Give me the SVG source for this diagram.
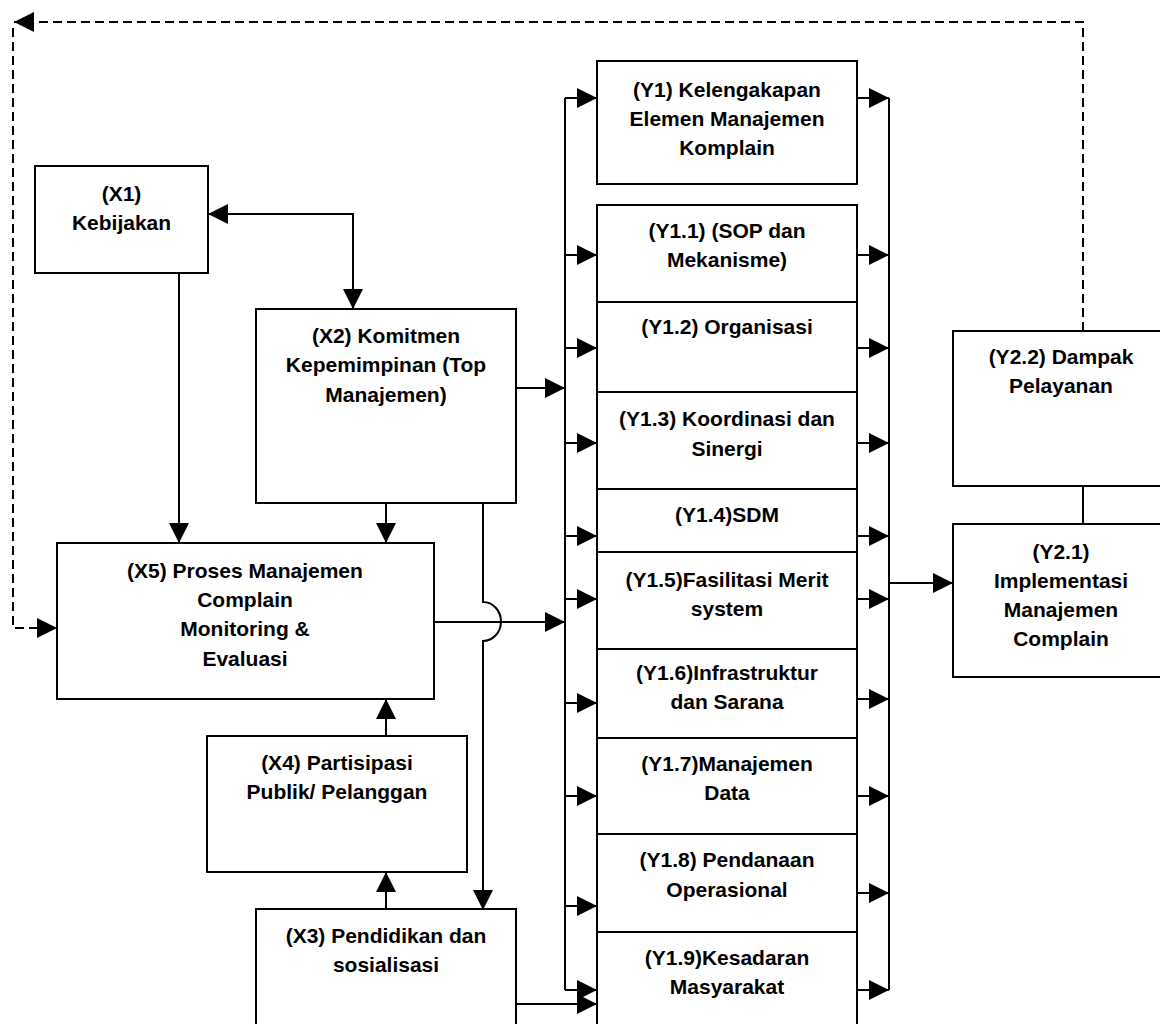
<svg xmlns="http://www.w3.org/2000/svg" width="1160" height="1024" viewBox="0 0 1160 1024">
  <style>
    .box { fill: #ffffff; stroke: #000000; stroke-width: 2; }
    .lbl { font-family: "Liberation Sans", Arial, sans-serif; font-weight: bold; font-size: 21px; fill: #000000; text-anchor: middle; }
    .ln { fill: none; stroke: #000000; stroke-width: 2; }
    .arr { fill: none; stroke: #000000; stroke-width: 2; marker-end: url(#head); }
    .dash { fill: none; stroke: #000000; stroke-width: 2; stroke-dasharray: 9 5; marker-end: url(#head); }
  </style>
  <defs>
    <marker id="head" viewBox="0 0 20 20" refX="20" refY="10" markerWidth="20" markerHeight="20" markerUnits="userSpaceOnUse" orient="auto-start-reverse">
      <path d="M0,0 L20,10 L0,20 Z" fill="#000000"/>
    </marker>
  </defs>
  <rect width="1160" height="1024" fill="#ffffff"/>

  <!-- connectors -->
  <g id="connectors">
    <!-- feedback loop (dashed) -->
    <path class="dash" d="M1083,331 V22 H14"/>
    <path class="dash" d="M13,28 V628 H57"/>
    <!-- X1 <-> X2 -->
    <path class="arr" style="marker-start:url(#head)" d="M208,214 H353 V309"/>
    <!-- into X5 -->
    <path class="arr" d="M179,273 V543"/>
    <path class="arr" d="M386,503 V543"/>
    <path class="arr" d="M386,736 V699"/>
    <path class="arr" d="M386,909 V872"/>
    <!-- X2 -> X3 with line hop over X5 output -->
    <path class="arr" d="M483,503 V602 A18,19.5 0 0 1 483,641 V910"/>
    <!-- sources to left bus -->
    <path class="arr" d="M516,388 H565"/>
    <path class="arr" d="M434,622 H565"/>
    <path class="arr" d="M516,1004 H597"/>
    <!-- left bus -->
    <path class="ln" d="M565,98 V990"/>
    <path class="arr" d="M565,98 H597"/>
    <path class="arr" d="M565,255 H597"/>
    <path class="arr" d="M565,348 H597"/>
    <path class="arr" d="M565,443 H597"/>
    <path class="arr" d="M565,536 H597"/>
    <path class="arr" d="M565,599 H597"/>
    <path class="arr" d="M565,703 H597"/>
    <path class="arr" d="M565,796 H597"/>
    <path class="arr" d="M565,906 H597"/>
    <path class="arr" d="M565,990 H597"/>
    <!-- right bus -->
    <path class="ln" d="M889,98 V990"/>
    <path class="arr" d="M857,98 H889"/>
    <path class="arr" d="M857,255 H889"/>
    <path class="arr" d="M857,348 H889"/>
    <path class="arr" d="M857,443 H889"/>
    <path class="arr" d="M857,536 H889"/>
    <path class="arr" d="M857,599 H889"/>
    <path class="arr" d="M857,699 H889"/>
    <path class="arr" d="M857,796 H889"/>
    <path class="arr" d="M857,893 H889"/>
    <path class="arr" d="M857,990 H889"/>
    <path class="arr" d="M889,583 H953"/>
    <!-- Y2.2 - Y2.1 -->
    <path class="ln" d="M1083,486 V524"/>
  </g>

  <!-- X nodes -->
  <g id="x1">
    <rect class="box" x="35" y="166" width="173" height="107"/>
    <text class="lbl" x="121.5" y="201">(X1)</text>
    <text class="lbl" x="121.5" y="230">Kebijakan</text>
  </g>
  <g id="x2">
    <rect class="box" x="256" y="309" width="260" height="194"/>
    <text class="lbl" x="386" y="343">(X2) Komitmen</text>
    <text class="lbl" x="386" y="372">Kepemimpinan (Top</text>
    <text class="lbl" x="386" y="402">Manajemen)</text>
  </g>
  <g id="x5">
    <rect class="box" x="57" y="543" width="377" height="156"/>
    <text class="lbl" x="245" y="578">(X5) Proses Manajemen</text>
    <text class="lbl" x="245" y="607">Complain</text>
    <text class="lbl" x="245" y="636">Monitoring &amp;</text>
    <text class="lbl" x="245" y="666">Evaluasi</text>
  </g>
  <g id="x4">
    <rect class="box" x="207" y="736" width="260" height="136"/>
    <text class="lbl" x="337" y="770">(X4) Partisipasi</text>
    <text class="lbl" x="337" y="799">Publik/ Pelanggan</text>
  </g>
  <g id="x3">
    <rect class="box" x="256" y="909" width="260" height="130"/>
    <text class="lbl" x="386" y="943">(X3) Pendidikan dan</text>
    <text class="lbl" x="386" y="972">sosialisasi</text>
  </g>

  <!-- Y1 column -->
  <g id="y1">
    <rect class="box" x="597" y="61" width="260" height="123"/>
    <text class="lbl" x="727" y="97">(Y1) Kelengakapan</text>
    <text class="lbl" x="727" y="126">Elemen Manajemen</text>
    <text class="lbl" x="727" y="155">Komplain</text>
  </g>
  <g id="y1-1">
    <rect class="box" x="597" y="205" width="260" height="97"/>
    <text class="lbl" x="727" y="238">(Y1.1) (SOP dan</text>
    <text class="lbl" x="727" y="267">Mekanisme)</text>
  </g>
  <g id="y1-2">
    <rect class="box" x="597" y="302" width="260" height="90"/>
    <text class="lbl" x="727" y="334">(Y1.2) Organisasi</text>
  </g>
  <g id="y1-3">
    <rect class="box" x="597" y="392" width="260" height="97"/>
    <text class="lbl" x="727" y="426">(Y1.3) Koordinasi dan</text>
    <text class="lbl" x="727" y="456">Sinergi</text>
  </g>
  <g id="y1-4">
    <rect class="box" x="597" y="489" width="260" height="63"/>
    <text class="lbl" x="727" y="522">(Y1.4)SDM</text>
  </g>
  <g id="y1-5">
    <rect class="box" x="597" y="552" width="260" height="97"/>
    <text class="lbl" x="727" y="587">(Y1.5)Fasilitasi Merit</text>
    <text class="lbl" x="727" y="616">system</text>
  </g>
  <g id="y1-6">
    <rect class="box" x="597" y="649" width="260" height="89"/>
    <text class="lbl" x="727" y="680">(Y1.6)Infrastruktur</text>
    <text class="lbl" x="727" y="709">dan Sarana</text>
  </g>
  <g id="y1-7">
    <rect class="box" x="597" y="738" width="260" height="96"/>
    <text class="lbl" x="727" y="771">(Y1.7)Manajemen</text>
    <text class="lbl" x="727" y="800">Data</text>
  </g>
  <g id="y1-8">
    <rect class="box" x="597" y="834" width="260" height="98"/>
    <text class="lbl" x="727" y="867">(Y1.8) Pendanaan</text>
    <text class="lbl" x="727" y="897">Operasional</text>
  </g>
  <g id="y1-9">
    <rect class="box" x="597" y="932" width="260" height="110"/>
    <text class="lbl" x="727" y="965">(Y1.9)Kesadaran</text>
    <text class="lbl" x="727" y="994">Masyarakat</text>
  </g>

  <!-- Y2 nodes -->
  <g id="y2-2">
    <rect class="box" x="953" y="331" width="217" height="155"/>
    <text class="lbl" x="1061" y="364">(Y2.2) Dampak</text>
    <text class="lbl" x="1061" y="393">Pelayanan</text>
  </g>
  <g id="y2-1">
    <rect class="box" x="953" y="524" width="217" height="153"/>
    <text class="lbl" x="1061" y="559">(Y2.1)</text>
    <text class="lbl" x="1061" y="588">Implementasi</text>
    <text class="lbl" x="1061" y="617">Manajemen</text>
    <text class="lbl" x="1061" y="646">Complain</text>
  </g>
</svg>
